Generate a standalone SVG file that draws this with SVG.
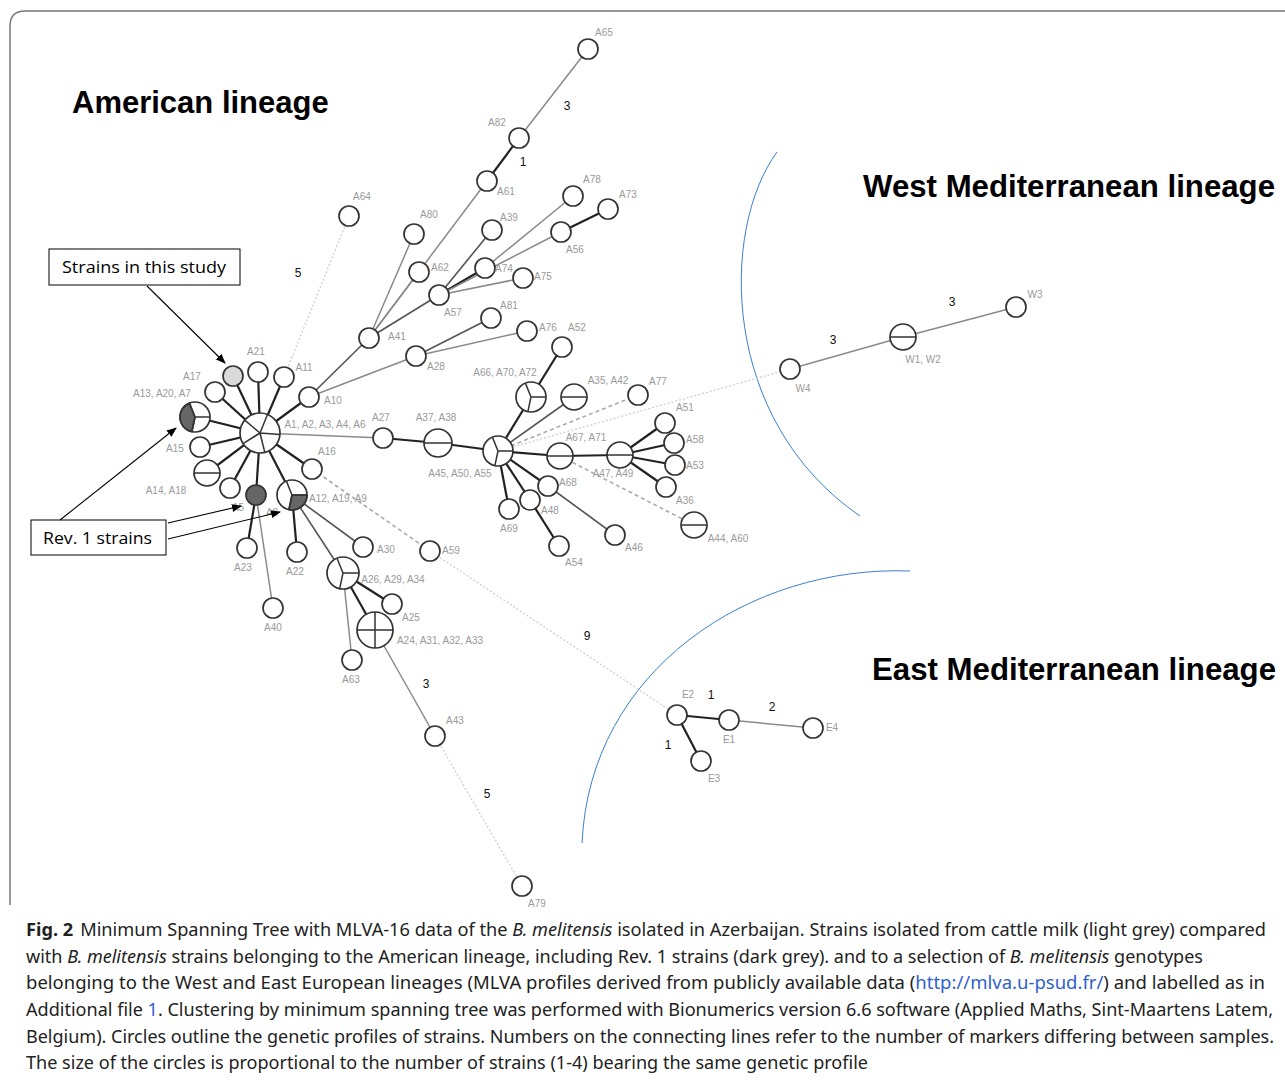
<svg xmlns="http://www.w3.org/2000/svg" width="1285" height="1082" viewBox="0 0 1285 1082">
<style>
.bg{fill:#fff}
.frame{fill:none;stroke:#777;stroke-width:1.5}
.n{fill:#fff;stroke:#333;stroke-width:1.7}
.d{fill:#666;stroke:#333;stroke-width:1.7}
.lg{fill:#d9d9d9;stroke:#333;stroke-width:1.7}
.sl{fill:none;stroke:#333;stroke-width:1.5}
.lb{font-family:"Liberation Sans",Arial,sans-serif;font-size:10px;fill:#9a9a9a;text-anchor:middle}
.num{font-family:"Liberation Sans",Arial,sans-serif;font-size:12px;fill:#111;text-anchor:middle}
.e1{stroke:#222;stroke-width:2.2}
.e2{stroke:#555;stroke-width:1.6}
.e3{stroke:#8a8a8a;stroke-width:1.5}
.da{stroke:#aaa;stroke-width:1.6;stroke-dasharray:4 3}
.dt{stroke:#cfcfcf;stroke-width:1.3;stroke-dasharray:2 2}
.ti{font-family:"Liberation Sans",Arial,sans-serif;font-weight:bold;font-size:31px;fill:#000}
.box{fill:#fff;stroke:#000;stroke-width:1}
.bt{font-family:"Open Sans","Noto Sans",sans-serif;font-size:17px;fill:#000}
.ar{stroke:#000;stroke-width:1.1;fill:none;marker-end:url(#ah)}
.arc{fill:none;stroke:#3a7fd0;stroke-width:1}
.cap{font-family:"Noto Sans","Open Sans",sans-serif;font-size:18px;fill:#222}
.lk{fill:#2f5fd0}
</style>
<defs>
<marker id="ah" markerWidth="10" markerHeight="8" refX="9" refY="4" orient="auto" markerUnits="userSpaceOnUse">
<path d="M0,0 L10,4 L0,8 Z" fill="#000"/>
</marker>
</defs>
<rect class="bg" x="0" y="0" width="1285" height="1082"/>
<path class="frame" d="M10,905 L10,26 Q10,11 25,11 L1285,11"/>

<g id="titles">
<text class="ti" x="72" y="113">American lineage</text>
<text class="ti" x="863" y="197" textLength="412" lengthAdjust="spacingAndGlyphs">West Mediterranean lineage</text>
<text class="ti" x="872" y="680" textLength="404" lengthAdjust="spacingAndGlyphs">East Mediterranean lineage</text>
</g>

<g id="arcs">
<path class="arc" d="M777,152 C720,230 720,420 860,516"/>
<path class="arc" d="M910,571 C750,565 590,670 582,843"/>
</g>

<g id="connectors">
<line class="e1" x1="260" y1="433" x2="215" y2="392"/>
<line class="e1" x1="260" y1="433" x2="233" y2="376"/>
<line class="e1" x1="260" y1="433" x2="258" y2="372"/>
<line class="e1" x1="260" y1="433" x2="284" y2="377"/>
<line class="e1" x1="260" y1="433" x2="309" y2="397"/>
<line class="e1" x1="260" y1="433" x2="195" y2="417"/>
<line class="e1" x1="260" y1="433" x2="200" y2="447"/>
<line class="e1" x1="260" y1="433" x2="207" y2="473"/>
<line class="e1" x1="260" y1="433" x2="230" y2="488"/>
<line class="e1" x1="260" y1="433" x2="256" y2="495"/>
<line class="e1" x1="260" y1="433" x2="292" y2="495"/>
<line class="e1" x1="260" y1="433" x2="312" y2="469"/>
<line class="e3" x1="260" y1="433" x2="383" y2="438"/>
<line class="dt" x1="284" y1="377" x2="349" y2="216"/>
<line class="e2" x1="309" y1="397" x2="369" y2="338"/>
<line class="e3" x1="309" y1="397" x2="416" y2="356"/>
<line class="e3" x1="369" y1="338" x2="414" y2="234"/>
<line class="e3" x1="369" y1="338" x2="419" y2="272"/>
<line class="e3" x1="369" y1="338" x2="487" y2="181"/>
<line class="e2" x1="369" y1="338" x2="439" y2="295"/>
<line class="e1" x1="487" y1="181" x2="519" y2="138"/>
<line class="e3" x1="519" y1="138" x2="588" y2="49"/>
<line class="e2" x1="439" y1="295" x2="492" y2="230"/>
<line class="e1" x1="439" y1="295" x2="485" y2="268"/>
<line class="e3" x1="439" y1="295" x2="523" y2="278"/>
<line class="e3" x1="439" y1="295" x2="561" y2="232"/>
<line class="e3" x1="485" y1="268" x2="573" y2="196"/>
<line class="e1" x1="561" y1="232" x2="608" y2="209"/>
<line class="e2" x1="416" y1="356" x2="491" y2="318"/>
<line class="e3" x1="416" y1="356" x2="527" y2="331"/>
<line class="e1" x1="383" y1="438" x2="438" y2="443"/>
<line class="e1" x1="438" y1="443" x2="498" y2="451"/>
<line class="e1" x1="498" y1="451" x2="531" y2="397"/>
<line class="e1" x1="531" y1="397" x2="562" y2="347"/>
<line class="e2" x1="498" y1="451" x2="574" y2="397"/>
<line class="da" x1="498" y1="451" x2="638" y2="395"/>
<line class="dt" x1="498" y1="451" x2="790" y2="369"/>
<line class="e1" x1="498" y1="451" x2="560" y2="456"/>
<line class="e1" x1="560" y1="456" x2="620" y2="455"/>
<line class="e1" x1="620" y1="455" x2="665" y2="423"/>
<line class="e1" x1="620" y1="455" x2="674" y2="443"/>
<line class="e1" x1="620" y1="455" x2="675" y2="465"/>
<line class="e1" x1="620" y1="455" x2="666" y2="487"/>
<line class="da" x1="560" y1="456" x2="694" y2="525"/>
<line class="e1" x1="498" y1="451" x2="548" y2="486"/>
<line class="e2" x1="548" y1="486" x2="615" y2="535"/>
<line class="e1" x1="498" y1="451" x2="530" y2="500"/>
<line class="e1" x1="530" y1="500" x2="559" y2="546"/>
<line class="e1" x1="498" y1="451" x2="509" y2="509"/>
<line class="e1" x1="292" y1="495" x2="297" y2="552"/>
<line class="e2" x1="292" y1="495" x2="363" y2="547"/>
<line class="e2" x1="292" y1="495" x2="343" y2="573"/>
<line class="da" x1="312" y1="469" x2="430" y2="551"/>
<line class="dt" x1="430" y1="551" x2="677" y2="715"/>
<line class="e1" x1="256" y1="495" x2="247" y2="548"/>
<line class="e3" x1="256" y1="495" x2="273" y2="608"/>
<line class="e1" x1="343" y1="573" x2="392" y2="604"/>
<line class="e1" x1="343" y1="573" x2="375" y2="630"/>
<line class="e3" x1="343" y1="573" x2="352" y2="660"/>
<line class="e3" x1="375" y1="630" x2="435" y2="736"/>
<line class="dt" x1="435" y1="736" x2="522" y2="886"/>
<line class="e3" x1="790" y1="369" x2="903" y2="337"/>
<line class="e3" x1="903" y1="337" x2="1016" y2="307"/>
<line class="e1" x1="677" y1="715" x2="729" y2="720"/>
<line class="e1" x1="677" y1="715" x2="701" y2="761"/>
<line class="e3" x1="729" y1="720" x2="813" y2="728"/>
</g>

<g id="edge-labels">
<text class="num" x="567" y="110">3</text>
<text class="num" x="523" y="166">1</text>
<text class="num" x="298" y="277">5</text>
<text class="num" x="587" y="640">9</text>
<text class="num" x="426" y="688">3</text>
<text class="num" x="487" y="798">5</text>
<text class="num" x="833" y="344">3</text>
<text class="num" x="952" y="306">3</text>
<text class="num" x="711" y="699">1</text>
<text class="num" x="772" y="711">2</text>
<text class="num" x="668" y="749">1</text>
</g>

<g id="A1"><circle class="n" cx="260" cy="433" r="20"/><path class="sl" d="M260,433 L267.5,414.5 M260,433 L280,434.4 M260,433 L264.8,452.4 M260,433 L243,443.6 M260,433 L244.7,420.1"/><text class="lb" x="325" y="428">A1, A2, A3, A4, A6</text></g>
<g id="A17"><circle class="n" cx="215" cy="392" r="10"/><text class="lb" x="192" y="380">A17</text></g>
<g id="study"><circle class="lg" cx="233" cy="376" r="10"/></g>
<g id="A21"><circle class="n" cx="258" cy="372" r="10"/><text class="lb" x="256" y="355">A21</text></g>
<g id="A11"><circle class="n" cx="284" cy="377" r="10"/><text class="lb" x="304" y="371">A11</text></g>
<g id="A10"><circle class="n" cx="309" cy="397" r="10"/><text class="lb" x="333" y="404">A10</text></g>
<g id="A13"><circle class="n" cx="195" cy="417" r="15"/><path class="d" d="M195,417 L189.4,403.1 A15,15 0 0 0 191.9,431.7 Z"/><path class="sl" d="M195,417 L189.4,403.1 M195,417 L210,417 M195,417 L191.9,431.7"/><text class="lb" x="162" y="397">A13, A20, A7</text></g>
<g id="A15"><circle class="n" cx="200" cy="447" r="10"/><text class="lb" x="175" y="452">A15</text></g>
<g id="A14"><circle class="n" cx="207" cy="473" r="13"/><path class="sl" d="M194,473 L220,473"/><text class="lb" x="166" y="494">A14, A18</text></g>
<g id="A5"><circle class="n" cx="230" cy="488" r="10"/><text class="lb" x="238" y="511">A5</text></g>
<g id="A8"><circle class="d" cx="256" cy="495" r="10"/><text class="lb" x="272" y="516">A8</text></g>
<g id="A12"><circle class="n" cx="292" cy="495" r="15"/><path class="d" d="M292,495 L307,495 A15,15 0 0 1 288.9,509.7 Z"/><path class="sl" d="M292,495 L286.4,481.1 M292,495 L307,495 M292,495 L288.9,509.7"/><text class="lb" x="338" y="502">A12, A19, A9</text></g>
<g id="A16"><circle class="n" cx="312" cy="469" r="10"/><text class="lb" x="327" y="455">A16</text></g>
<g id="A23"><circle class="n" cx="247" cy="548" r="10"/><text class="lb" x="243" y="571">A23</text></g>
<g id="A22"><circle class="n" cx="297" cy="552" r="10"/><text class="lb" x="295" y="575">A22</text></g>
<g id="A40"><circle class="n" cx="273" cy="608" r="10"/><text class="lb" x="273" y="631">A40</text></g>
<g id="A30"><circle class="n" cx="363" cy="547" r="10"/><text class="lb" x="386" y="553">A30</text></g>
<g id="A59"><circle class="n" cx="430" cy="551" r="10"/><text class="lb" x="451" y="554">A59</text></g>
<g id="A26"><circle class="n" cx="343" cy="573" r="16"/><path class="sl" d="M343,573 L337,558.2 M343,573 L359,573 M343,573 L339.7,588.6"/><text class="lb" x="393" y="583">A26, A29, A34</text></g>
<g id="A25"><circle class="n" cx="392" cy="604" r="10"/><text class="lb" x="411" y="621">A25</text></g>
<g id="A24"><circle class="n" cx="375" cy="630" r="18"/><path class="sl" d="M375,612 L375,648 M357,630 L393,630"/><text class="lb" x="440" y="644">A24, A31, A32, A33</text></g>
<g id="A63"><circle class="n" cx="352" cy="660" r="10"/><text class="lb" x="351" y="683">A63</text></g>
<g id="A43"><circle class="n" cx="435" cy="736" r="10"/><text class="lb" x="455" y="724">A43</text></g>
<g id="A79"><circle class="n" cx="522" cy="886" r="10"/><text class="lb" x="537" y="907">A79</text></g>
<g id="A64"><circle class="n" cx="349" cy="216" r="10"/><text class="lb" x="362" y="200">A64</text></g>
<g id="A80"><circle class="n" cx="414" cy="234" r="10"/><text class="lb" x="429" y="218">A80</text></g>
<g id="A41"><circle class="n" cx="369" cy="338" r="10"/><text class="lb" x="397" y="340">A41</text></g>
<g id="A28"><circle class="n" cx="416" cy="356" r="10"/><text class="lb" x="436" y="370">A28</text></g>
<g id="A62"><circle class="n" cx="419" cy="272" r="10"/><text class="lb" x="440" y="271">A62</text></g>
<g id="A57"><circle class="n" cx="439" cy="295" r="10"/><text class="lb" x="453" y="316">A57</text></g>
<g id="A61"><circle class="n" cx="487" cy="181" r="10"/><text class="lb" x="506" y="195">A61</text></g>
<g id="A82"><circle class="n" cx="519" cy="138" r="10"/><text class="lb" x="497" y="126">A82</text></g>
<g id="A65"><circle class="n" cx="588" cy="49" r="10"/><text class="lb" x="604" y="36">A65</text></g>
<g id="A39"><circle class="n" cx="492" cy="230" r="10"/><text class="lb" x="509" y="221">A39</text></g>
<g id="A74"><circle class="n" cx="485" cy="268" r="10"/><text class="lb" x="504" y="272">A74</text></g>
<g id="A75"><circle class="n" cx="523" cy="278" r="10"/><text class="lb" x="543" y="280">A75</text></g>
<g id="A56"><circle class="n" cx="561" cy="232" r="10"/><text class="lb" x="575" y="253">A56</text></g>
<g id="A78"><circle class="n" cx="573" cy="196" r="10"/><text class="lb" x="592" y="183">A78</text></g>
<g id="A73"><circle class="n" cx="608" cy="209" r="10"/><text class="lb" x="628" y="198">A73</text></g>
<g id="A81"><circle class="n" cx="491" cy="318" r="10"/><text class="lb" x="509" y="309">A81</text></g>
<g id="A76"><circle class="n" cx="527" cy="331" r="10"/><text class="lb" x="548" y="331">A76</text></g>
<g id="A27"><circle class="n" cx="383" cy="438" r="10"/><text class="lb" x="381" y="421">A27</text></g>
<g id="A37"><circle class="n" cx="438" cy="443" r="14"/><path class="sl" d="M424,443 L452,443"/><text class="lb" x="436" y="421">A37, A38</text></g>
<g id="A45"><circle class="n" cx="498" cy="451" r="15"/><path class="sl" d="M498,451 L492.4,437.1 M498,451 L513,451 M498,451 L494.9,465.7"/><text class="lb" x="460" y="477">A45, A50, A55</text></g>
<g id="A66"><circle class="n" cx="531" cy="397" r="15"/><path class="sl" d="M531,397 L525.4,383.1 M531,397 L546,397 M531,397 L527.9,411.7"/><text class="lb" x="505" y="376">A66, A70, A72</text></g>
<g id="A52"><circle class="n" cx="562" cy="347" r="10"/><text class="lb" x="577" y="331">A52</text></g>
<g id="A35"><circle class="n" cx="574" cy="397" r="13"/><path class="sl" d="M561,397 L587,397"/><text class="lb" x="608" y="384">A35, A42</text></g>
<g id="A77"><circle class="n" cx="638" cy="395" r="10"/><text class="lb" x="658" y="385">A77</text></g>
<g id="A67"><circle class="n" cx="560" cy="456" r="13"/><path class="sl" d="M547,456 L573,456"/><text class="lb" x="586" y="441">A67, A71</text></g>
<g id="A47"><circle class="n" cx="620" cy="455" r="13"/><path class="sl" d="M607,455 L633,455"/><text class="lb" x="613" y="477">A47, A49</text></g>
<g id="A51"><circle class="n" cx="665" cy="423" r="10"/><text class="lb" x="685" y="411">A51</text></g>
<g id="A58"><circle class="n" cx="674" cy="443" r="10"/><text class="lb" x="695" y="443">A58</text></g>
<g id="A53"><circle class="n" cx="675" cy="465" r="10"/><text class="lb" x="695" y="469">A53</text></g>
<g id="A36"><circle class="n" cx="666" cy="487" r="10"/><text class="lb" x="685" y="504">A36</text></g>
<g id="A44"><circle class="n" cx="694" cy="525" r="13"/><path class="sl" d="M681,525 L707,525"/><text class="lb" x="728" y="542">A44, A60</text></g>
<g id="A68"><circle class="n" cx="548" cy="486" r="10"/><text class="lb" x="568" y="486">A68</text></g>
<g id="A48"><circle class="n" cx="530" cy="500" r="10"/><text class="lb" x="550" y="514">A48</text></g>
<g id="A69"><circle class="n" cx="509" cy="509" r="10"/><text class="lb" x="509" y="532">A69</text></g>
<g id="A54"><circle class="n" cx="559" cy="546" r="10"/><text class="lb" x="574" y="566">A54</text></g>
<g id="A46"><circle class="n" cx="615" cy="535" r="10"/><text class="lb" x="634" y="551">A46</text></g>
<g id="W4"><circle class="n" cx="790" cy="369" r="10"/><text class="lb" x="803" y="392">W4</text></g>
<g id="W1"><circle class="n" cx="903" cy="337" r="13"/><path class="sl" d="M890,337 L916,337"/><text class="lb" x="923" y="363">W1, W2</text></g>
<g id="W3"><circle class="n" cx="1016" cy="307" r="10"/><text class="lb" x="1035" y="298">W3</text></g>
<g id="E2"><circle class="n" cx="677" cy="715" r="10"/><text class="lb" x="688" y="698">E2</text></g>
<g id="E1"><circle class="n" cx="729" cy="720" r="10"/><text class="lb" x="729" y="743">E1</text></g>
<g id="E4"><circle class="n" cx="813" cy="728" r="10"/><text class="lb" x="832" y="731">E4</text></g>
<g id="E3"><circle class="n" cx="701" cy="761" r="10"/><text class="lb" x="714" y="782">E3</text></g>

<g id="callouts">
<rect class="box" x="49" y="249" width="191" height="36"/>
<text class="bt" x="62" y="273" textLength="164" lengthAdjust="spacingAndGlyphs">Strains in this study</text>
<line class="ar" x1="147" y1="286" x2="225" y2="363"/>
<rect class="box" x="31" y="520" width="135" height="35"/>
<text class="bt" x="43" y="544" textLength="109" lengthAdjust="spacingAndGlyphs">Rev. 1 strains</text>
<line class="ar" x1="60" y1="520" x2="176" y2="428"/>
<line class="ar" x1="168" y1="523" x2="241" y2="506"/>
<line class="ar" x1="168" y1="539" x2="280" y2="512"/>
</g>

<g id="caption">
<text class="cap" x="26" y="936" textLength="1240" lengthAdjust="spacingAndGlyphs"><tspan font-weight="bold">Fig. 2</tspan><tspan dx="7">Minimum Spanning Tree with MLVA-16 data of the </tspan><tspan font-style="italic">B. melitensis</tspan> isolated in Azerbaijan. Strains isolated from cattle milk (light grey) compared</text>
<text class="cap" x="26" y="963" textLength="1177" lengthAdjust="spacingAndGlyphs">with <tspan font-style="italic">B. melitensis</tspan> strains belonging to the American lineage, including Rev. 1 strains (dark grey). and to a selection of <tspan font-style="italic">B. melitensis</tspan> genotypes</text>
<text class="cap" x="26" y="989" textLength="1239" lengthAdjust="spacingAndGlyphs">belonging to the West and East European lineages (MLVA profiles derived from publicly available data (<tspan class="lk">http://mlva.u-psud.fr/</tspan>) and labelled as in</text>
<text class="cap" x="26" y="1016" textLength="1247" lengthAdjust="spacingAndGlyphs">Additional file <tspan class="lk">1</tspan>. Clustering by minimum spanning tree was performed with Bionumerics version 6.6 software (Applied Maths, Sint-Maartens Latem,</text>
<text class="cap" x="26" y="1043" textLength="1248" lengthAdjust="spacingAndGlyphs">Belgium). Circles outline the genetic profiles of strains. Numbers on the connecting lines refer to the number of markers differing between samples.</text>
<text class="cap" x="26" y="1069" textLength="842" lengthAdjust="spacingAndGlyphs">The size of the circles is proportional to the number of strains (1-4) bearing the same genetic profile</text>
</g>
</svg>
